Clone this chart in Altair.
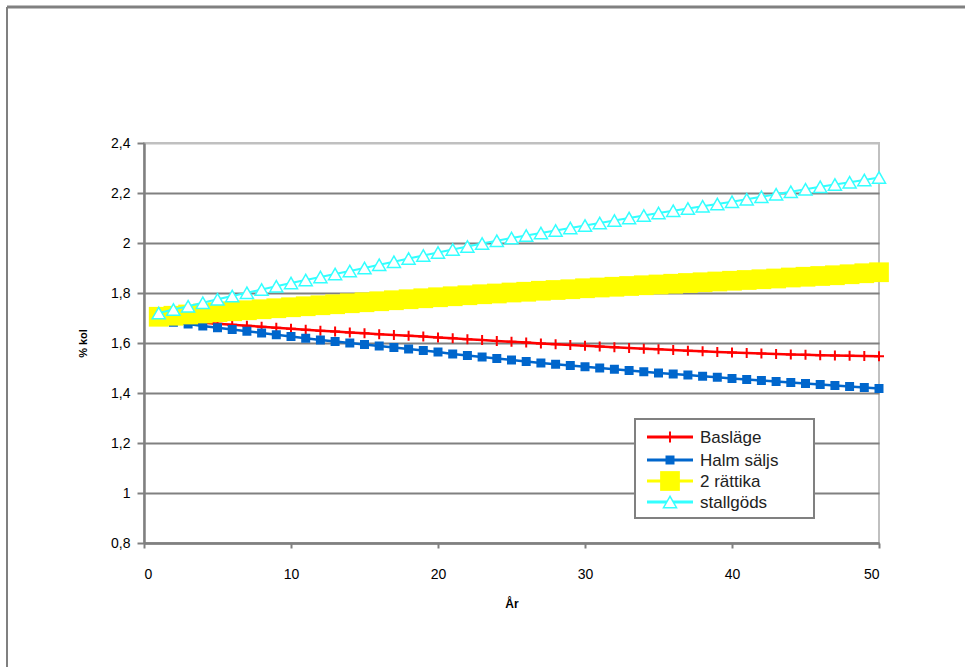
import altair as alt
import pandas as pd

# ---------------- data ----------------
years = list(range(1, 51))
series_names = ["Basläge", "Halm säljs", "2 rättika", "stallgöds"]

baslage = [1.690, 1.688, 1.685, 1.681, 1.677, 1.673, 1.669, 1.665, 1.661, 1.657,
           1.653, 1.649, 1.646, 1.642, 1.639, 1.635, 1.632, 1.629, 1.626, 1.622,
           1.619, 1.615, 1.612, 1.608, 1.605, 1.602, 1.598, 1.595, 1.592, 1.589,
           1.586, 1.583, 1.580, 1.577, 1.575, 1.572, 1.569, 1.567, 1.564, 1.562,
           1.560, 1.558, 1.556, 1.554, 1.553, 1.551, 1.550, 1.549, 1.548, 1.547]

halm = [1.690, 1.683, 1.676, 1.668, 1.661, 1.654, 1.647, 1.640, 1.633, 1.626,
        1.619, 1.612, 1.606, 1.600, 1.594, 1.588, 1.582, 1.576, 1.570, 1.564,
        1.556, 1.550, 1.544, 1.538, 1.532, 1.526, 1.520, 1.515, 1.510, 1.505,
        1.500, 1.495, 1.490, 1.485, 1.480, 1.476, 1.472, 1.467, 1.463, 1.458,
        1.454, 1.450, 1.446, 1.442, 1.438, 1.434, 1.430, 1.426, 1.422, 1.418]

rattika = [1.705, 1.709, 1.714, 1.718, 1.723, 1.727, 1.731, 1.735, 1.739, 1.743,
           1.747, 1.751, 1.755, 1.759, 1.763, 1.767, 1.771, 1.775, 1.779, 1.783,
           1.787, 1.791, 1.795, 1.798, 1.802, 1.805, 1.809, 1.812, 1.815, 1.819,
           1.822, 1.825, 1.828, 1.831, 1.834, 1.837, 1.840, 1.843, 1.846, 1.849,
           1.852, 1.855, 1.858, 1.862, 1.865, 1.868, 1.871, 1.875, 1.879, 1.883]

stallgods = [1.720, 1.734, 1.747, 1.761, 1.775, 1.788, 1.801, 1.814, 1.827, 1.840,
             1.852, 1.864, 1.876, 1.888, 1.900, 1.913, 1.925, 1.938, 1.950, 1.962,
             1.974, 1.986, 1.998, 2.009, 2.020, 2.030, 2.040, 2.050, 2.060, 2.070,
             2.080, 2.090, 2.100, 2.110, 2.120, 2.129, 2.138, 2.147, 2.156, 2.165,
             2.175, 2.185, 2.195, 2.205, 2.215, 2.225, 2.234, 2.243, 2.252, 2.262]

x_ticks = [0, 10, 20, 30, 40, 50]
y_ticks = [0.8, 1.0, 1.2, 1.4, 1.6, 1.8, 2.0, 2.2, 2.4]
x_title = "År"
y_title = "% kol"

# ---------------- style ----------------
FONT = "Liberation Sans"
W, H = 735, 400
GRID = "#808080"

values_by_series = [baslage, halm, rattika, stallgods]
styles = [
    dict(color="#FF0000", lw=2.5, shape="M-1,0H1M0,-1V1", size=100, filled=False, sw=2, lsize=120),
    dict(color="#0066CC", lw=2.5, shape="square", size=81, filled=True, sw=0, lsize=81),
    dict(color="#FFFF00", lw=2, shape="square", size=390, filled=True, sw=0, lsize=390),
    dict(color="#33FFFF", lw=2, shape="triangle-up", size=170, filled=False, sw=1.5, lsize=170),
]

xenc = alt.X(
    "year:Q",
    scale=alt.Scale(domain=[0, 50], nice=False, zero=False),
    axis=alt.Axis(
        values=x_ticks, title=x_title, grid=False,
        domainColor=GRID, domainWidth=2.5, tickColor=GRID, tickWidth=2, tickSize=5,
        labelFont=FONT, labelFontSize=14, labelColor="#000000", labelPadding=19,
        titleFont=FONT, titleFontSize=12, titleFontWeight="bold", titleColor="#000000",
        titleX=W / 2, titleY=60, titleBaseline="middle", titleAlign="center",
    ),
)
yenc = alt.Y(
    "value:Q",
    scale=alt.Scale(domain=[0.8, 2.4], nice=False, zero=False),
    axis=alt.Axis(
        values=y_ticks, title=y_title,
        grid=True, gridWidth=2,
        gridColor=alt.condition("datum.value >= 2.39", alt.value("#C0C0C0"), alt.value(GRID)),
        domainColor=GRID, domainWidth=2.5, tickColor=GRID, tickWidth=2, tickSize=7,
        labelFont=FONT, labelFontSize=14, labelColor="#000000", labelPadding=7,
        labelExpr="replace(format(datum.value, '.1~f'), '.', ',')",
        titleFont=FONT, titleFontSize=11, titleFontWeight="bold", titleColor="#000000",
        titleX=-61, titleY=200, titleAngle=270, titleAlign="center", titleBaseline="middle",
    ),
)


def point_kwargs(st, size):
    kw = dict(shape=st["shape"], size=size, opacity=1)
    if st["filled"]:
        kw.update(filled=True, fill=st["color"], strokeWidth=0)
    elif st["shape"] == "triangle-up":
        kw.update(filled=True, fill="#FFFFFF", stroke=st["color"], strokeWidth=st["sw"])
    else:
        kw.update(filled=False, stroke=st["color"], strokeWidth=st["sw"])
    return kw


layers = []
for name, vals, st in zip(series_names, values_by_series, styles):
    df = pd.DataFrame({"year": years, "value": vals, "series": name})
    base = alt.Chart(df)
    layers.append(base.mark_line(color=st["color"], strokeWidth=st["lw"]).encode(x=xenc, y=yenc))
    layers.append(base.mark_point(**point_kwargs(st, st["size"])).encode(x=xenc, y=yenc))

# ---------------- decorations (frame & legend) ----------------
dummy = alt.Chart(pd.DataFrame({"k": [0]}))
frame_top = dummy.mark_rule(color=GRID, strokeWidth=3).encode(
    x=alt.value(-137), x2=alt.value(830), y=alt.value(-136))
frame_left = dummy.mark_rule(color=GRID, strokeWidth=2).encode(
    x=alt.value(-137), y=alt.value(-136), y2=alt.value(530))

legend_box = dummy.mark_rect(fill="#FFFFFF", stroke=GRID, strokeWidth=2).encode(
    x=alt.value(491), x2=alt.value(670), y=alt.value(276), y2=alt.value(375))

legend_layers = [legend_box]
row_y = [294, 317, 338, 359]
for name, st, ry in zip(series_names, styles, row_y):
    ldf = alt.Chart(pd.DataFrame({"series": [name]}))
    legend_layers.append(ldf.mark_rule(color=st["color"], strokeWidth=3).encode(
        x=alt.value(503), x2=alt.value(549), y=alt.value(ry)))
    legend_layers.append(ldf.mark_point(**point_kwargs(st, st["lsize"])).encode(
        x=alt.value(526), y=alt.value(ry)))
    legend_layers.append(ldf.mark_text(font=FONT, fontSize=17, color="#222222",
                                       align="left", baseline="middle").encode(
        x=alt.value(556), y=alt.value(ry + 1), text="series:N"))

chart = alt.layer(frame_top, frame_left, *layers, *legend_layers).properties(
    width=W, height=H,
    padding={"left": 144, "top": 143, "right": 86, "bottom": 124},
    autosize="none",
    background="#FFFFFF",
).configure_view(stroke="#C0C0C0", strokeWidth=2)

chart.save("out.html", embed_options={"renderer": "svg", "actions": False})
